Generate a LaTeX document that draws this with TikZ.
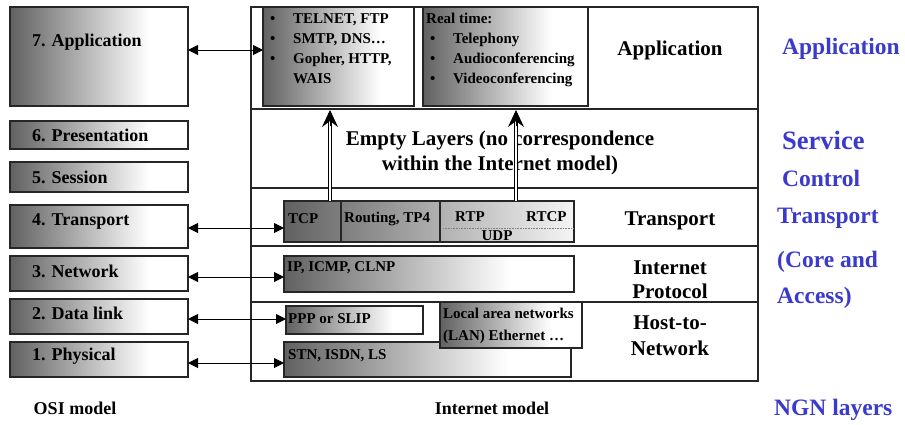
\documentclass[tikz,border=0pt]{standalone}
\usepackage{fontspec}
\setmainfont{Liberation Serif}
\usetikzlibrary{arrows.meta}
\definecolor{boxdark}{gray}{0.38}
\definecolor{edge}{gray}{0.15}
\definecolor{ngnblue}{RGB}{58,58,204}
% dark-to-white fades used for the protocol boxes
% (the filled path is mapped onto the 25bp--75bp part of a shading)
\pgfdeclarehorizontalshading{fadebox}{100bp}{color(0bp)=(boxdark); color(25bp)=(boxdark); color(64bp)=(white); color(100bp)=(white)}
\pgfdeclarehorizontalshading{fadelong}{100bp}{color(0bp)=(boxdark); color(25bp)=(boxdark); color(75bp)=(white!96!black); color(100bp)=(white!96!black)}
\begin{document}
\begin{tikzpicture}[x=1pt,y=-1pt,
  box/.style={draw=edge, line width=1.1pt, shade, shading=fadebox, anchor=north west, inner sep=0pt, outer sep=0pt},
  frame/.style={draw=edge, line width=1.1pt, anchor=north west, inner sep=0pt, outer sep=0pt},
  rule/.style={draw=edge, line width=1.1pt},
  osilbl/.style={font=\fontsize{18}{22}\selectfont\bfseries, inner sep=0pt, anchor=west},
  small/.style={font=\fontsize{15}{19.7}\selectfont\bfseries, inner sep=0pt},
  layer/.style={font=\fontsize{21}{25}\selectfont\bfseries, align=center, inner sep=0pt},
  ngn/.style={font=\fontsize{23.5}{28}\selectfont\bfseries, text=ngnblue, inner sep=0pt, anchor=west},
  link/.style={line width=1pt, {Triangle[length=10pt,width=10pt]}-{Triangle[length=10pt,width=10pt]}},
  upshaft/.style={double=white, draw=black, double distance=1.8pt, line width=0.7pt},
  uphead/.style={line width=0.8pt, -{Stealth[length=17pt,width=16pt,inset=6pt]}}]
\useasboundingbox (0,0) rectangle (905,424);

% ---------------- OSI model ----------------
\node[box, minimum width=178pt, minimum height=99pt] (osi7) at (10,7) {};
\node[box, minimum width=178pt, minimum height=28pt] (osi6) at (10,121) {};
\node[box, minimum width=178pt, minimum height=30pt] (osi5) at (10,162) {};
\node[box, minimum width=178pt, minimum height=43pt] (osi4) at (10,205) {};
\node[box, minimum width=178pt, minimum height=35pt] (osi3) at (10,256) {};
\node[box, minimum width=178pt, minimum height=35pt] (osi2) at (10,299) {};
\node[box, minimum width=178pt, minimum height=35pt] (osi1) at (10,342) {};

\node[osilbl] (osi7t) at (32,42) {7. Application};
\node[osilbl] (osi6t) at (32,135) {6. Presentation};
\node[osilbl] (osi5t) at (32,177) {5. Session};
\node[osilbl] (osi4t) at (32,221) {4. Transport};
\node[osilbl] (osi3t) at (32,271) {3. Network};
\node[osilbl] (osi2t) at (32,313) {2. Data link};
\node[osilbl] (osi1t) at (32,356) {1. Physical};

% ---------------- Internet model ----------------
\node[frame, fill=white, minimum width=507pt, minimum height=374pt] (inet) at (251,7) {};
\draw[rule] (inet.west |- 0,109) -- (inet.east |- 0,109);
\draw[rule] (inet.west |- 0,188) -- (inet.east |- 0,188);
\draw[rule] (inet.west |- 0,246) -- (inet.east |- 0,246);
\draw[rule] (inet.west |- 0,302) -- (inet.east |- 0,302);

% application row
\node[box, minimum width=151pt, minimum height=99pt] (app1) at (263,7) {};
\node[box, minimum width=165pt, minimum height=99pt] (app2) at (423,7) {};
\node[small, anchor=north west] (app1t) at (270,10) {%
  \begin{tabular}{@{}p{23pt}@{}l@{}}
  \textbullet & TELNET, FTP\\
  \textbullet & SMTP, DNS\ldots\\
  \textbullet & Gopher, HTTP,\\
              & WAIS
  \end{tabular}};
\node[small, anchor=north west] (app2t) at (426,10) {%
  \begin{tabular}{@{\hspace{4pt}}p{23pt}@{}l@{}}
  \multicolumn{2}{@{}l@{}}{Real time:}\\
  \textbullet & Telephony\\
  \textbullet & Audioconferencing\\
  \textbullet & Videoconferencing
  \end{tabular}};
\node[layer] (appl) at (670,50) {Application};

% empty layers row
\node[layer] (empty) at (500,153) {Empty Layers (no correspondence\\within the Internet model)};

% transport row
\node[box, shading=fadelong, minimum width=290pt, minimum height=41pt] (tr) at (284,201) {};
\draw[rule] (341,201) -- (341,242);
\draw[rule] (440,201) -- (440,242);
\draw[gray, line width=0.6pt, densely dotted] (443,228) -- (tr.east |- 0,228);
\node[small, anchor=west] (tcp) at (288,219) {TCP};
\node[small, anchor=west] (rout) at (344,219) {Routing, TP4};
\node[small, anchor=west] (rtp) at (455,217) {RTP};
\node[small, anchor=west] (rtcp) at (526,217) {RTCP};
\node[small] (udp) at (497,236) {UDP};
\node[layer] (trl) at (670,221) {Transport};

% internet protocol row
\node[box, minimum width=290pt, minimum height=36pt] (ip) at (284,256) {};
\node[small, anchor=west] (ipt) at (287,268) {IP, ICMP, CLNP};
\node[layer, font=\fontsize{21}{24}\selectfont\bfseries] (ipl) at (670,280) {Internet\\Protocol};

% host-to-network row
\node[box, minimum width=137pt, minimum height=28pt] (ppp) at (286,306) {};
\node[small, anchor=west] (pppt) at (288,319) {PPP or SLIP};
\node[box, minimum width=287pt, minimum height=35pt] (stn) at (284,342) {};
\node[small, anchor=west] (stnt) at (288,356) {STN, ISDN, LS};
\node[box, minimum width=142pt, minimum height=46pt] (lan) at (440,302) {};
\node[small, anchor=north west, align=left, font=\fontsize{15}{21.5}\selectfont\bfseries] (lant) at (443,308)
  {Local area networks\\(LAN) Ethernet \ldots};
\node[layer, font=\fontsize{21}{26}\selectfont\bfseries] (hostl) at (670,336) {Host-to-\\Network};

% ---------------- captions ----------------
\node[osilbl, anchor=center] (osicap) at (75,408) {OSI model};
\node[osilbl, anchor=center] (inetcap) at (492,408) {Internet model};

% ---------------- NGN layers ----------------
\node[ngn] (ngnapp) at (782,49) {Application};
\node[ngn, font=\fontsize{26.5}{30}\selectfont\bfseries] (ngnsvc) at (782,140) {Service};
\node[ngn] (ngnctl) at (782,178) {Control};
\node[ngn] (ngntr) at (777,218) {Transport};
\node[ngn] (ngncore) at (777,262) {(Core and};
\node[ngn] (ngnacc) at (777,298) {Access)};
\node[ngn] (ngncap) at (774,410) {NGN layers};

% ---------------- correspondences ----------------
\draw[link] (osi7.east |- 0,50) -- (app1.west |- 0,50);
\draw[link] (osi4.east |- 0,228) -- (tr.west |- 0,228);
\draw[link] (osi3.east |- 0,277) -- (ip.west |- 0,277);
\draw[link] (osi2.east |- 0,319) -- (ppp.west |- 0,319);
\draw[link] (osi1.east |- 0,363) -- (stn.west |- 0,363);

% transport protocols serving the application boxes
\coordinate (up1a) at (330,201);
\coordinate (up1b) at (330,110);
\coordinate (up2a) at (516,201);
\coordinate (up2b) at (516,110);
\draw[upshaft] (up1a) -- ([yshift=-12pt]up1b);
\draw[uphead] ([yshift=-16pt]up1b) -- (up1b);
\draw[upshaft] (up2a) -- ([yshift=-12pt]up2b);
\draw[uphead] ([yshift=-16pt]up2b) -- (up2b);
\end{tikzpicture}
\end{document}
